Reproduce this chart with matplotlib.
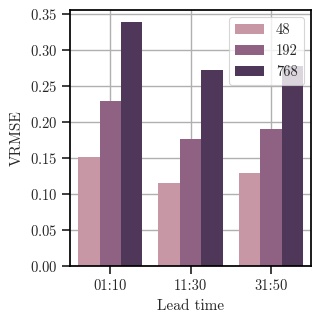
import matplotlib
matplotlib.use("Agg")
import matplotlib.pyplot as plt
import pandas as pd
import seaborn as sns

lead_times = ["01:10", "11:30", "31:50"]
sizes = [48, 192, 768]
vrmse_48 = [0.152, 0.116, 0.130]
vrmse_192 = [0.229, 0.176, 0.190]
vrmse_768 = [0.338, 0.272, 0.277]
colors = ["#c897a6", "#8f6283", "#4f3759"]

df = pd.DataFrame({
    "Lead time": lead_times * 3,
    "size": [sizes[0]] * 3 + [sizes[1]] * 3 + [sizes[2]] * 3,
    "VRMSE": vrmse_48 + vrmse_192 + vrmse_768,
})

sns.set_theme(context="paper", style="ticks", rc={"axes.grid": True})
plt.rcParams["font.family"] = ["cmr10", "DejaVu Serif"]
plt.rcParams["axes.formatter.use_mathtext"] = True

fig, ax = plt.subplots(figsize=(3.19, 3.19), dpi=100)
sns.barplot(data=df, x="Lead time", y="VRMSE", hue="size", palette=colors,
            saturation=1, linewidth=0, ax=ax)
ax.set_xlabel("Lead time", fontsize=11)
ax.set_ylabel("VRMSE", fontsize=11)
ax.tick_params(labelsize=10.5, length=6, width=1.25)
for s in ax.spines.values():
    s.set_linewidth(1.25)
    s.set_color("black")
ax.grid(True, color="#b0b0b0", linewidth=1)
ax.set_axisbelow(True)
ax.legend(title=None, loc="upper right", fontsize=10.5)
fig.subplots_adjust(left=0.22, right=0.975, top=0.968, bottom=0.165)
fig.savefig("out.png", dpi=100)
